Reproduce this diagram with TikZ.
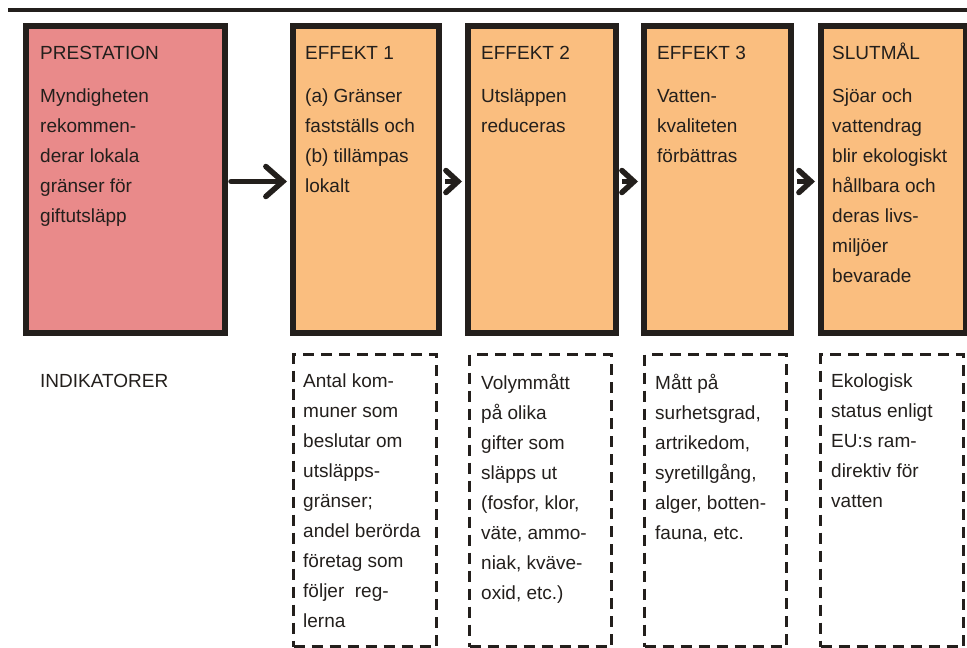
\documentclass[tikz,border=0pt]{standalone}
\usepackage{fontspec}
\setmainfont{Liberation Sans}
\usetikzlibrary{arrows.meta,calc}
\definecolor{pinkfill}{HTML}{E98A8A}
\definecolor{orangefill}{HTML}{FABE7F}
\definecolor{ink}{HTML}{231F1C}
\begin{document}
\begin{tikzpicture}[x=1pt,y=-1pt,
  solidbox/.style={draw=ink,line width=6pt,rectangle,inner sep=0pt,anchor=north west,minimum height=307pt},
  dashbox/.style={draw=ink,line width=3pt,dash pattern=on 11pt off 7pt,rectangle,inner sep=0pt,anchor=north west,minimum height=292pt},
  txt/.style={anchor=north west,align=left,inner sep=0pt,font=\fontsize{19}{30}\selectfont,text=ink},
  ttl/.style={anchor=base west,inner sep=0pt,font=\fontsize{19}{30}\selectfont,text=ink},
  flow/.style={draw=ink,line width=5.5pt,line cap=round,shorten <=3pt,shorten >=3pt,-{Straight Barb[length=17pt,width=30pt,line cap=round]}},
  flowsm/.style={draw=ink,line width=5.5pt,shorten <=3pt,shorten >=3pt,-{Straight Barb[length=12pt,width=22pt,line cap=round]}}]
\useasboundingbox (0,0) rectangle (967,648);
\draw[ink,line width=4pt] (8,10) -- (967,10);
% main boxes
\node[solidbox,fill=pinkfill,minimum width=199pt] (p) at (23,23) {};
\node[solidbox,fill=orangefill,minimum width=146pt] (e1) at (290,23) {};
\node[solidbox,fill=orangefill,minimum width=148pt] (e2) at (465,23) {};
\node[solidbox,fill=orangefill,minimum width=147pt] (e3) at (641,23) {};
\node[solidbox,fill=orangefill,minimum width=145pt] (s) at (818,23) {};
% titles
\node[ttl] (pt) at ($(p.north west)+(17,36)$) {PRESTATION};
\node[ttl] (e1t) at ($(e1.north west)+(15,36)$) {EFFEKT 1};
\node[ttl] (e2t) at ($(e2.north west)+(16,36)$) {EFFEKT 2};
\node[ttl] (e3t) at ($(e3.north west)+(16,36)$) {EFFEKT 3};
\node[ttl] (st) at ($(s.north west)+(14,36)$) {SLUTMÅL};
% bodies
\node[txt] (pb) at ($(p.north west)+(17,66)$) {Myndigheten\\rekommen-\\derar lokala\\gränser för\\giftutsläpp};
\node[txt] (e1b) at ($(e1.north west)+(15,66)$) {(a) Gränser\\fastställs och\\(b) tillämpas\\lokalt};
\node[txt] (e2b) at ($(e2.north west)+(16,66)$) {Utsläppen\\reduceras};
\node[txt] (e3b) at ($(e3.north west)+(16,66)$) {Vatten-\\kvaliteten\\förbättras};
\node[txt] (sb) at ($(s.north west)+(14,66)$) {Sjöar och\\vattendrag\\blir ekologiskt\\hållbara och\\deras livs-\\miljöer\\bevarade};
% arrows
\draw[flow] ([yshift=-2pt]p.east) -- ([yshift=-2pt]e1.west);
\draw[flowsm] ([yshift=-2pt]e1.east) -- ([yshift=-2pt]e2.west);
\draw[flowsm] ([yshift=-2pt]e2.east) -- ([yshift=-2pt]e3.west);
\draw[flowsm] ([yshift=-2pt]e3.east) -- ([yshift=-2pt]s.west);
% indicators
\node[ttl] (ind) at (40,387) {INDIKATORER};
\node[dashbox,minimum width=143pt] (d1) at (292,353) {};
\node[dashbox,minimum width=142pt] (d2) at (468,353) {};
\node[dashbox,minimum width=142pt] (d3) at (643,353) {};
\node[dashbox,minimum width=143pt] (d4) at (819,353) {};
\node[txt] (d1b) at ($(d1.north west)+(11,21)$) {Antal kom-\\muner som\\beslutar om\\utsläpps-\\gränser;\\andel berörda\\företag som\\följer\ \ reg-\\lerna};
\node[txt] (d2b) at ($(d2.north west)+(13,21)$) {Volymmått\\på olika\\gifter som\\släpps ut\\(fosfor, klor,\\väte, ammo-\\niak, kväve-\\oxid, etc.)};
\node[txt] (d3b) at ($(d3.north west)+(12,21)$) {Mått på\\surhetsgrad,\\artrikedom,\\syretillgång,\\alger, botten-\\fauna, etc.};
\node[txt] (d4b) at ($(d4.north west)+(12,21)$) {Ekologisk\\status enligt\\EU:s ram-\\direktiv för\\vatten};
\end{tikzpicture}
\end{document}
